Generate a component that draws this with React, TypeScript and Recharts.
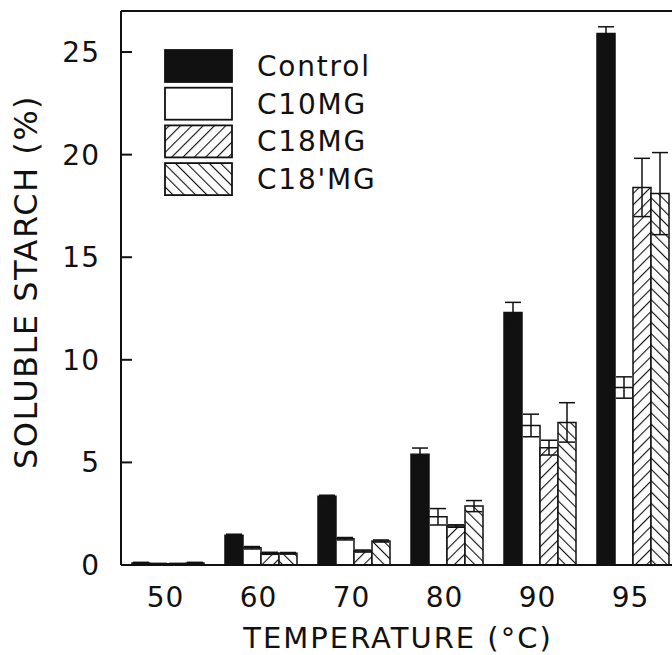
import React from "react";
import {
  BarChart,
  Bar,
  XAxis,
  YAxis,
  ErrorBar,
  ReferenceLine,
  Legend,
} from "recharts";

// temperatures (categories)
const temps = ["50", "60", "70", "80", "90", "95"];

// soluble starch (%) per treatment
const control = [0.1, 1.45, 3.35, 5.4, 12.3, 25.9];
const c10mg = [0.06, 0.84, 1.28, 2.35, 6.8, 8.65];
const c18mg = [0.06, 0.57, 0.68, 1.9, 5.72, 18.4];
const c18pmg = [0.1, 0.57, 1.17, 2.87, 6.95, 18.1];

// error bars (+/-)
const controlErr = [0.03, 0.05, 0.05, 0.3, 0.5, 0.33];
const c10mgErr = [0.02, 0.06, 0.06, 0.4, 0.55, 0.52];
const c18mgErr = [0.02, 0.05, 0.05, 0.06, 0.36, 1.42];
const c18pmgErr = [0.03, 0.04, 0.05, 0.27, 0.96, 2.0];

const yTicks = [0, 5, 10, 15, 20, 25];

const data = temps.map((t, i) => ({
  temp: t,
  control: control[i],
  controlErr: controlErr[i],
  c10mg: c10mg[i],
  c10mgErr: c10mgErr[i],
  c18mg: c18mg[i],
  c18mgErr: c18mgErr[i],
  c18pmg: c18pmg[i],
  c18pmgErr: c18pmgErr[i],
}));

const FONT = "'DejaVu Sans', sans-serif";
const INK = "#111";

const legendItems = [
  { name: "Control", fill: INK },
  { name: "C10MG", fill: "#fff" },
  { name: "C18MG", fill: "url(#hatchFwd)" },
  { name: "C18'MG", fill: "url(#hatchBack)" },
];

const YTick = (props: any) => {
  const { x, y, payload } = props;
  return (
    <g>
      <line x1={x + 21} x2={x + 32} y1={y} y2={y} stroke={INK} strokeWidth={2} />
      <text
        x={x}
        y={y + 10}
        textAnchor="end"
        fontFamily={FONT}
        fontSize={28}
        letterSpacing={1}
        fill={INK}
      >
        {payload.value}
      </text>
    </g>
  );
};

const XTick = (props: any) => {
  const { x, payload } = props;
  return (
    <text
      x={x - 2}
      y={607}
      textAnchor="middle"
      fontFamily={FONT}
      fontSize={28}
      letterSpacing={1}
      fill={INK}
    >
      {payload.value}
    </text>
  );
};

const renderLegend = () => (
  <svg width={420} height={220}>
    {legendItems.map((item, i) => {
      const top = 50 + i * 37.7;
      return (
        <g key={item.name}>
          <rect
            x={165}
            y={top}
            width={67}
            height={32}
            fill={item.fill}
            stroke={INK}
            strokeWidth={1.8}
          />
          <text
            x={257}
            y={top + 26}
            fontFamily={FONT}
            fontSize={28}
            letterSpacing={1.8}
            fill={INK}
          >
            {item.name}
          </text>
        </g>
      );
    })}
  </svg>
);

export default function App() {
  return (
    <div
      style={{
        position: "absolute",
        left: 0,
        top: 0,
        width: 672,
        height: 655,
        overflow: "hidden",
        background: "#fff",
      }}
    >
      <BarChart
        width={700}
        height={655}
        data={data}
        margin={{ top: 11, right: 21, left: 0, bottom: 0 }}
        barCategoryGap={11}
        barGap={0}
      >
        <defs>
          <pattern id="hatchFwd" patternUnits="userSpaceOnUse" width={8} height={8} patternTransform="rotate(45)">
            <rect width={8} height={8} fill="#fff" />
            <line x1={0} y1={0} x2={0} y2={8} stroke={INK} strokeWidth={2.2} />
          </pattern>
          <pattern id="hatchBack" patternUnits="userSpaceOnUse" width={8} height={8} patternTransform="rotate(-45)">
            <rect width={8} height={8} fill="#fff" />
            <line x1={0} y1={0} x2={0} y2={8} stroke={INK} strokeWidth={2.2} />
          </pattern>
        </defs>
        <XAxis
          dataKey="temp"
          height={90}
          tickLine={false}
          tickSize={0}
          axisLine={{ stroke: INK, strokeWidth: 2 }}
          tick={<XTick />}
          interval={0}
          label={{
            content: () => (
              <text
                x={398}
                y={648}
                textAnchor="middle"
                fontFamily={FONT}
                fontSize={29}
                letterSpacing={2}
                fill={INK}
              >
                TEMPERATURE (°C)
              </text>
            ),
          }}
        />
        <YAxis
          width={121}
          domain={[0, 27]}
          ticks={yTicks}
          tickLine={false}
          tickSize={0}
          tickMargin={21}
          axisLine={{ stroke: INK, strokeWidth: 2 }}
          tick={<YTick />}
          label={{
            content: () => (
              <text
                x={37}
                y={282}
                textAnchor="middle"
                fontFamily={FONT}
                fontSize={32}
                letterSpacing={1.5}
                fill={INK}
                transform="rotate(-90, 37, 282)"
              >
                SOLUBLE STARCH (%)
              </text>
            ),
          }}
        />
        <ReferenceLine y={27} stroke={INK} strokeWidth={2} />
        <Legend
          layout="vertical"
          align="center"
          verticalAlign="middle"
          content={renderLegend}
          wrapperStyle={{ position: "absolute", left: 0, top: 0, width: 420, height: 220 }}
        />
        <Bar dataKey="control" name="Control" fill={INK} stroke={INK} strokeWidth={1.5} isAnimationActive={false}>
          <ErrorBar dataKey="controlErr" width={8} stroke={INK} strokeWidth={1.5} />
        </Bar>
        <Bar dataKey="c10mg" name="C10MG" fill="#fff" stroke={INK} strokeWidth={1.5} isAnimationActive={false}>
          <ErrorBar dataKey="c10mgErr" width={8} stroke={INK} strokeWidth={1.5} />
        </Bar>
        <Bar dataKey="c18mg" name="C18MG" fill="url(#hatchFwd)" stroke={INK} strokeWidth={1.5} isAnimationActive={false}>
          <ErrorBar dataKey="c18mgErr" width={8} stroke={INK} strokeWidth={1.5} />
        </Bar>
        <Bar dataKey="c18pmg" name="C18'MG" fill="url(#hatchBack)" stroke={INK} strokeWidth={1.5} isAnimationActive={false}>
          <ErrorBar dataKey="c18pmgErr" width={8} stroke={INK} strokeWidth={1.5} />
        </Bar>
      </BarChart>
    </div>
  );
}
